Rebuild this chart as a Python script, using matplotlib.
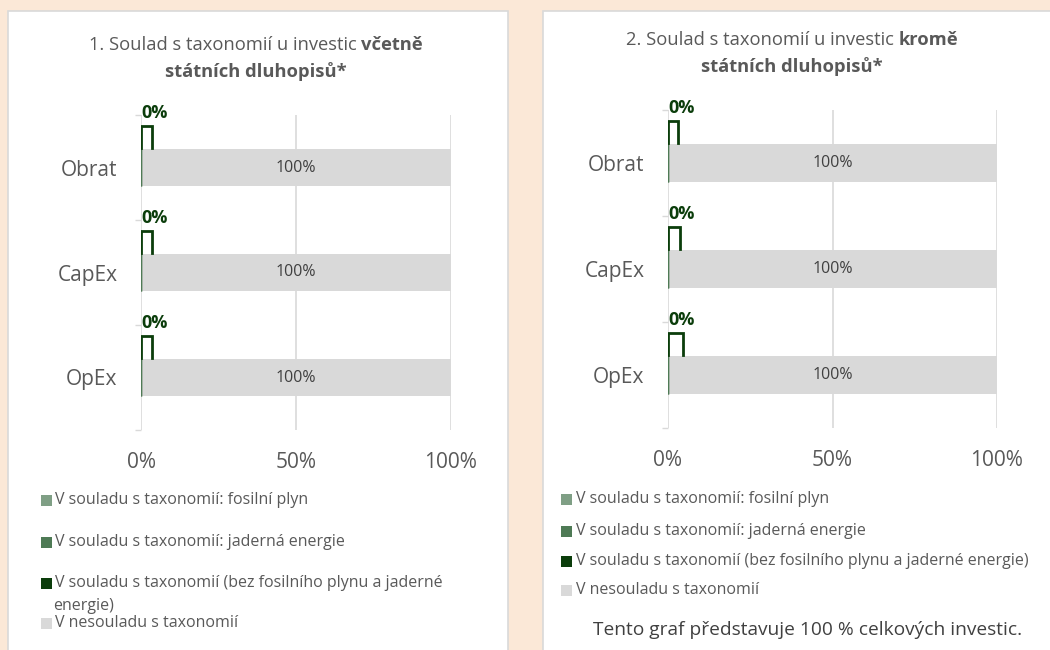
import matplotlib
matplotlib.use("Agg")
import matplotlib.pyplot as plt
from matplotlib.patches import Rectangle
import numpy as np

plt.rcParams['font.family'] = ['Open Sans', 'DejaVu Sans']

# ---------------- data ----------------
categories = ['Obrat', 'CapEx', 'OpEx']
series_names = ['V souladu s taxonomií: fosilní plyn',
                'V souladu s taxonomií: jaderná energie',
                'V souladu s taxonomií (bez fosilního plynu a jaderné energie)',
                'V nesouladu s taxonomií']
series_colors = ['#7F9F85', '#4E7A55', '#0B3D0B', '#D9D9D9']

c1_fosil = [0, 0, 0]
c1_jader = [0, 0, 0]
c1_bez = [0, 0, 0]
c1_nesoulad = [100, 100, 100]

c2_fosil = [0, 0, 0]
c2_jader = [0, 0, 0]
c2_bez = [0, 0, 0]
c2_nesoulad = [100, 100, 100]

x_ticks = [0, 50, 100]
x_ticklabels = ['0%', '50%', '100%']

title1 = ('1. Soulad s taxonomií u investic ', 'včetně', 'státních dluhopisů*')
title2 = ('2. Soulad s taxonomií u investic ', 'kromě', 'státních dluhopisů*')
note2 = 'Tento graf představuje 100 % celkových investic.'

# ---------------- figure ----------------
W, H = 1050, 650
fig = plt.figure(figsize=(W / 100, H / 100), dpi=100)
fig.patch.set_facecolor('#FBE8D7')

TXT = '#595959'
LEG_FS = 11.5


def fx(x):
    return x / W


def fy(y):
    return 1 - y / H


def panel(x0, y0, x1, y1):
    fig.patches.append(Rectangle((fx(x0), fy(y1)), fx(x1) - fx(x0), fy(y0) - fy(y1),
                                 transform=fig.transFigure, facecolor='white',
                                 edgecolor='#D9D9D9', linewidth=1.2, zorder=-10))


panel(7.5, 10.5, 507.5, 670)
panel(542.5, 10.5, 1070, 670)

renderer = fig.canvas.get_renderer()


def mixed_title(parts, cx, y1, y2, size=13.2):
    normal, bold, line2 = parts
    t1 = fig.text(0, fy(y1), normal, fontsize=size, color=TXT, va='center', ha='left')
    t2 = fig.text(0, fy(y1), bold, fontsize=size, color=TXT, va='center', ha='left',
                  fontweight='bold')
    w1 = t1.get_window_extent(renderer).width
    w2 = t2.get_window_extent(renderer).width
    start = cx - (w1 + w2) / 2
    t1.set_x(fx(start))
    t2.set_x(fx(start + w1))
    fig.text(fx(cx), fy(y2), line2, fontsize=size, color=TXT, va='center', ha='center',
             fontweight='bold')


def draw_chart(rect, fosil, jader, bez, nesoulad, bracket_w):
    l, t, r, b = rect
    ax = fig.add_axes([fx(l), fy(b), fx(r) - fx(l), fy(t) - fy(b)])
    ax.set_facecolor('none')
    y = np.arange(len(categories))
    h = 0.35
    fosil = np.array(fosil, float)
    jader = np.array(jader, float)
    bez = np.array(bez, float)
    nes = np.array(nesoulad, float)
    # grey bars
    bars = ax.barh(y, nes, left=fosil + jader + bez, height=h, color=series_colors[3],
                   zorder=2)
    for rr, v in zip(bars, nes):
        ax.text(rr.get_x() + rr.get_width() / 2, rr.get_y() + rr.get_height() / 2,
                f'{v:.0f}%', ha='center', va='center', fontsize=11.5, color='#404040',
                zorder=5)
    # green (zero-width) series, drawn as edges so they remain visible
    ax.barh(y, bez, left=fosil + jader, height=h, color=series_colors[2],
            edgecolor=series_colors[2], linewidth=1.0, zorder=3)
    ax.barh(y, fosil, left=0, height=h, color=series_colors[0],
            edgecolor=series_colors[0], linewidth=1.0, zorder=3)
    ax.barh(y, jader, left=fosil, height=h, color=series_colors[1],
            edgecolor=series_colors[1], linewidth=1.4, zorder=4)
    # data labels for the dark-green series with leader brackets
    for i, v in enumerate(bez):
        xl = fosil[i] + jader[i]
        ly = y[i] - 0.52
        ax.text(xl, ly, f'{v:.0f}%', ha='left', va='center', fontsize=13,
                fontweight='bold', color=series_colors[2], zorder=6)
        top = y[i] - 0.40
        bot = y[i] - h / 2 - 0.01
        bw = bracket_w[i]
        ax.plot([xl, xl, xl + bw, xl + bw], [bot, top, top, bot],
                color=series_colors[2], linewidth=2.0, zorder=6, solid_joinstyle='miter')
    ax.set_xlim(0, 100)
    ax.set_ylim(len(categories) - 0.5, -0.5)
    ax.set_xticks(x_ticks)
    ax.set_xticklabels(x_ticklabels)
    ax.set_yticks(y)
    ax.set_yticklabels(categories)
    ax.set_yticks(np.arange(len(categories) + 1) - 0.5, minor=True)
    ax.tick_params(axis='x', length=0, pad=16, labelsize=15, labelcolor=TXT)
    ax.tick_params(axis='y', which='major', length=0, pad=17, labelsize=15, labelcolor=TXT)
    ax.tick_params(axis='y', which='minor', length=4, width=1, color='#D9D9D9')
    ax.grid(axis='x', color='#D9D9D9', linewidth=1.2, zorder=0)
    ax.set_axisbelow(True)
    for s in ax.spines.values():
        s.set_visible(False)
    return ax


draw_chart((141, 115, 451, 430), c1_fosil, c1_jader, c1_bez, c1_nesoulad, [3.5, 3.5, 3.5])
draw_chart((668, 110, 997, 428), c2_fosil, c2_jader, c2_bez, c2_nesoulad, [3.0, 3.5, 4.5])

mixed_title(title1, 256, 45, 72)
mixed_title(title2, 792, 40, 67)


def legend_square(xsq, yc, color):
    s = 11
    fig.patches.append(Rectangle((fx(xsq), fy(yc + s / 2)), s / W, s / H,
                                 transform=fig.transFigure, facecolor=color,
                                 edgecolor='none', zorder=1))


def legend_entry(xsq, xtxt, yc, color, label):
    legend_square(xsq, yc, color)
    fig.text(fx(xtxt), fy(yc), label, fontsize=LEG_FS, color=TXT, va='center', ha='left')


# left legend (third label wraps)
left_ys = [500, 542, 583, 623]
for lab, col, yy in zip(series_names, series_colors, left_ys):
    if lab.endswith('a jaderné energie)'):
        first, second = lab.rsplit(' ', 1)
        legend_square(41, yy, col)
        fig.text(fx(55), fy(yy), first, fontsize=LEG_FS, color=TXT, va='center', ha='left')
        fig.text(fx(53), fy(yy + 23), second, fontsize=LEG_FS, color=TXT, va='center',
                 ha='left')
    else:
        legend_entry(41, 55, yy, col, lab)

right_ys = [499, 531, 561, 590]
for lab, col, yy in zip(series_names, series_colors, right_ys):
    legend_entry(561, 576, yy, col, lab)

fig.text(fx(808), fy(630), note2, fontsize=13.8, color='#404040', va='center', ha='center')

fig.savefig('out.png', dpi=100, facecolor=fig.get_facecolor())
